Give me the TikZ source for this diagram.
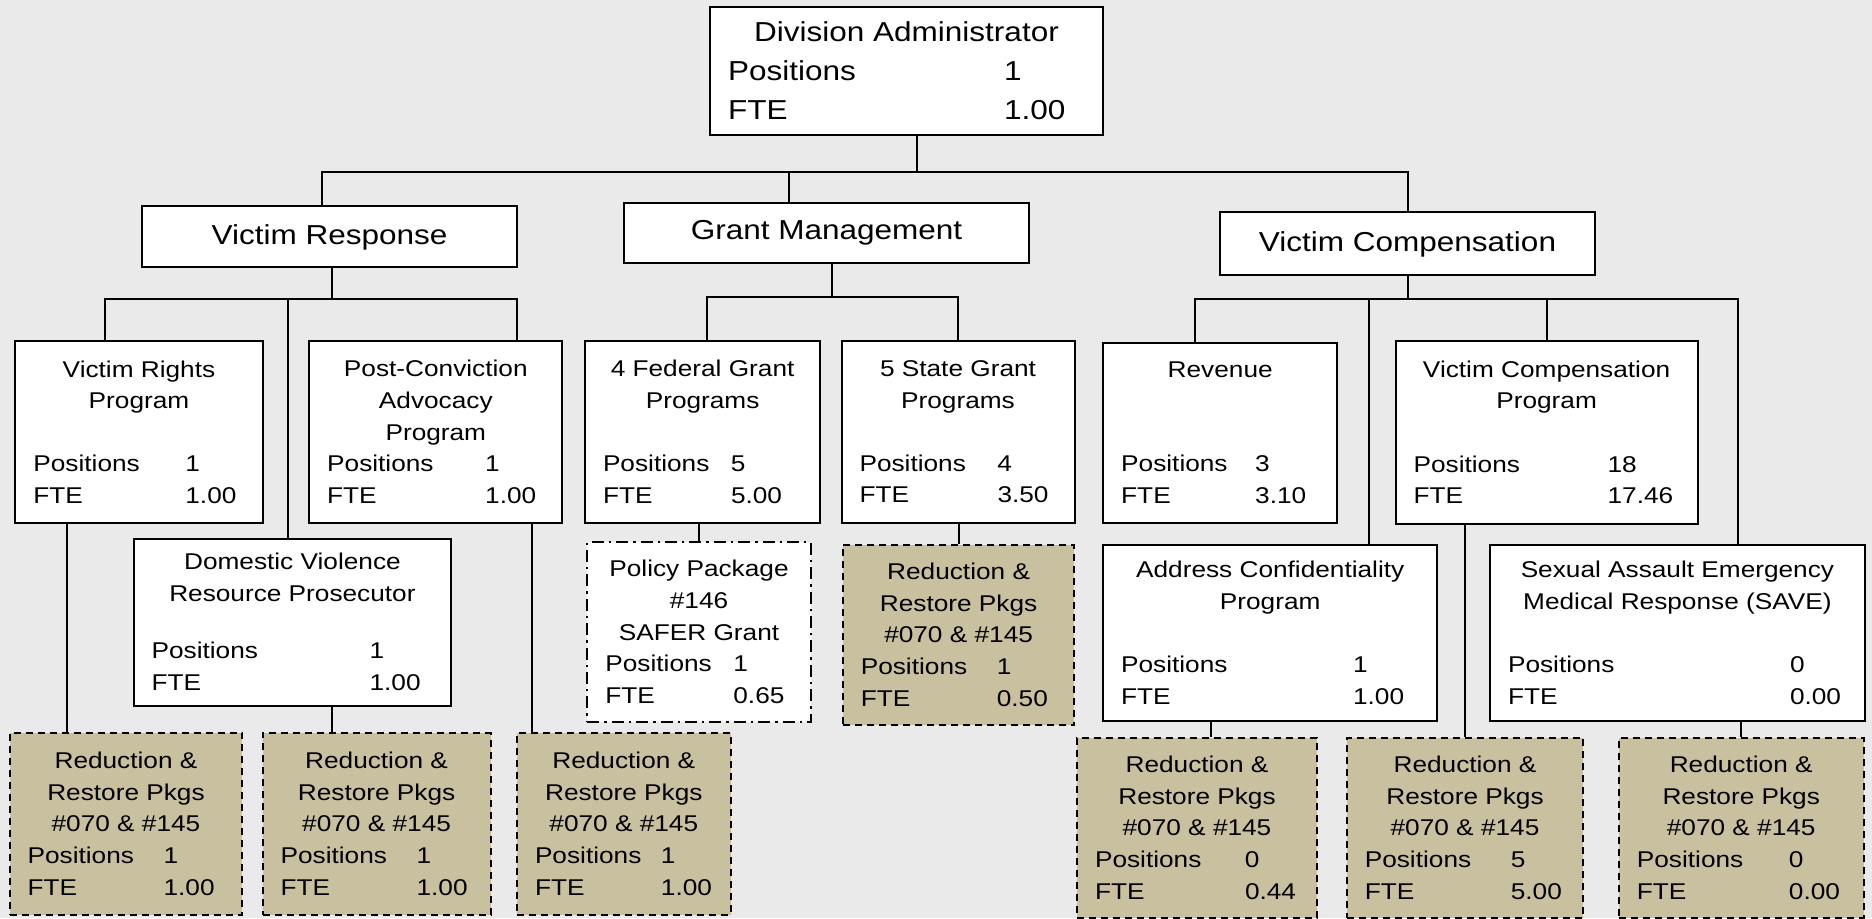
\documentclass[tikz,border=0pt]{standalone}
\usepackage{fontspec}
\setmainfont{Liberation Sans}[FakeStretch=1.15]
\definecolor{pkgtan}{HTML}{C8C09E}
\definecolor{bggray}{HTML}{EAEAEA}
\newlength{\pfw}
\newcommand{\pf}[3]{\makebox[\pfw][l]{\makebox[#1][l]{Positions}#2}\\\makebox[\pfw][l]{\makebox[#1][l]{FTE}#3}}
\newcommand{\redpkgs}{Reduction \&\\Restore Pkgs\\\#070 \& \#145}
\tikzset{
  orgbox/.style 2 args={draw, line width=1pt, align=center, inner xsep=9pt, inner ysep=2pt,
    minimum width=#1, minimum height=#2, font=\fontsize{11.4}{15.8}\selectfont,
    execute at begin node={\setlength{\pfw}{#1}\addtolength{\pfw}{-18pt}}},
  box/.style 2 args={orgbox={#1}{#2}, fill=white},
  redbox/.style 2 args={orgbox={#1}{#2}, fill=pkgtan, dash pattern=on 3.5pt off 2.5pt},
  polbox/.style 2 args={orgbox={#1}{#2}, fill=white, dash pattern=on 6pt off 2.5pt on 1.2pt off 2.5pt},
  big/.style={font=\fontsize{13.7}{19.5}\selectfont}
}
\begin{document}
\begin{tikzpicture}[x=1pt, y=-1pt, line width=1pt]
\fill[bggray] (0,0) rectangle (936,459);
\node[box={196.5pt}{64pt}, big] (da) at (453.25,35.5) {Division Administrator\\\pf{138pt}{1}{1.00}};
\node[box={187.5pt}{30.5pt}, big] (vr) at (164.75,118.5) {Victim Response};
\node[box={202.5pt}{30pt}, big] (gm) at (413.25,116.5) {Grant Management};
\node[box={187.5pt}{31.5pt}, big] (vc) at (703.75,122) {Victim Compensation};

\node[box={123.6pt}{90.8pt}] (vrp) at (69.5,216.1) {Victim Rights\\Program\\[15.8pt]\pf{76pt}{1}{1.00}};
\node[box={126.6pt}{91pt}] (pc) at (217.9,216) {Post-Conviction\\Advocacy\\Program\\\pf{79pt}{1}{1.00}};
\node[box={158.8pt}{83.5pt}] (dv) at (146.2,311) {Domestic Violence\\Resource Prosecutor\\[13pt]\pf{109pt}{1}{1.00}};
\node[box={117.6pt}{91pt}] (fed) at (351.3,215.9) {4 Federal Grant\\Programs\\[15.8pt]\pf{64pt}{5}{5.00}};
\node[box={116.5pt}{91pt}] (st) at (479,215.9) {5 State Grant\\Programs\\[15.8pt]\pf{69pt}{4}{3.50}};
\node[polbox={111.6pt}{90pt}] (pol) at (349.5,316) {Policy Package\\\#146\\SAFER Grant\\\pf{64pt}{1}{0.65}};
\node[redbox={115.8pt}{90.2pt}] (sr) at (479.3,317.4) {\redpkgs\\\pf{68pt}{1}{0.50}};
\node[box={117pt}{90pt}] (rev) at (610.1,216.3) {Revenue\\[31.6pt]\pf{67pt}{3}{3.10}};
\node[box={151pt}{91.6pt}] (vcp) at (773.3,216.2) {Victim Compensation\\Program\\[15.8pt]\pf{97pt}{18}{17.46}};
\node[box={167.1pt}{88.4pt}] (addr) at (635.1,316.5) {Address Confidentiality\\Program\\[15.8pt]\pf{116pt}{1}{1.00}};
\node[box={187.4pt}{88.4pt}] (save) at (838.7,316.5) {Sexual Assault Emergency\\Medical Response (SAVE)\\[15.8pt]\pf{141pt}{0}{0.00}};

\node[redbox={116.4pt}{90.8pt}] (r1) at (63,411.9) {\redpkgs\\\pf{68pt}{1}{1.00}};
\node[redbox={114pt}{90.8pt}] (r2) at (188.3,411.9) {\redpkgs\\\pf{68pt}{1}{1.00}};
\node[redbox={106.8pt}{90.8pt}] (r3) at (311.9,411.9) {\redpkgs\\\pf{63pt}{1}{1.00}};
\node[redbox={120pt}{90pt}] (r4) at (598.5,413.9) {\redpkgs\\\pf{75pt}{0}{0.44}};
\node[redbox={118.2pt}{90pt}] (r5) at (732.5,413.9) {\redpkgs\\\pf{73pt}{5}{5.00}};
\node[redbox={122.3pt}{90pt}] (r6) at (870.6,413.9) {\redpkgs\\\pf{76pt}{0}{0.00}};

\coordinate (bus0) at (0,86);
\draw ([xshift=5.25pt]da.south) -- ([xshift=5.25pt]da.south |- bus0);
\draw ([xshift=-3.75pt]vr.north) |- (bus0 -| vc.north) -- (vc.north);
\draw ([xshift=-18.75pt]gm.north) -- ([xshift=-18.75pt]gm.north |- bus0);

\coordinate (bus1) at (0,149.5);
\draw ([xshift=1pt]vr.south) -- ([xshift=1pt]vr.south |- bus1);
\draw ([xshift=-17pt]vrp.north) |- ([xshift=40.6pt]pc.north |- bus1) -- ([xshift=40.6pt]pc.north);
\draw ([xshift=-2.3pt]dv.north) -- ([xshift=-2.3pt]dv.north |- bus1);

\coordinate (bus2) at (0,148.7);
\draw ([xshift=2.85pt]gm.south) -- ([xshift=2.85pt]gm.south |- bus2);
\draw ([xshift=2.1pt]fed.north) |- (bus2 -| st.north) -- (st.north);

\coordinate (bus3) at (0,149.3);
\draw (vc.south) -- (vc.south |- bus3);
\draw ([xshift=-12.5pt]rev.north) |- ([xshift=30.4pt]save.north |- bus3) -- ([xshift=30.4pt]save.north);
\draw ([xshift=49.6pt]addr.north) -- ([xshift=49.6pt]addr.north |- bus3);
\draw (vcp.north) -- (vcp.north |- bus3);

\draw ([xshift=-36.1pt]vrp.south) -- ([xshift=-36.1pt]vrp.south |- r1.north);
\draw ([xshift=19.8pt]dv.south) -- ([xshift=19.8pt]dv.south |- r2.north);
\draw ([xshift=48.3pt]pc.south) -- ([xshift=48.3pt]pc.south |- r3.north);
\draw (pol.north) -- (pol.north |- fed.south);
\draw (sr.north) -- (sr.north |- st.south);
\draw ([xshift=6.8pt]r4.north) -- ([xshift=6.8pt]r4.north |- addr.south);
\draw (r5.north) -- (r5.north |- vcp.south);
\draw (r6.north) -- (r6.north |- save.south);
\end{tikzpicture}
\end{document}
